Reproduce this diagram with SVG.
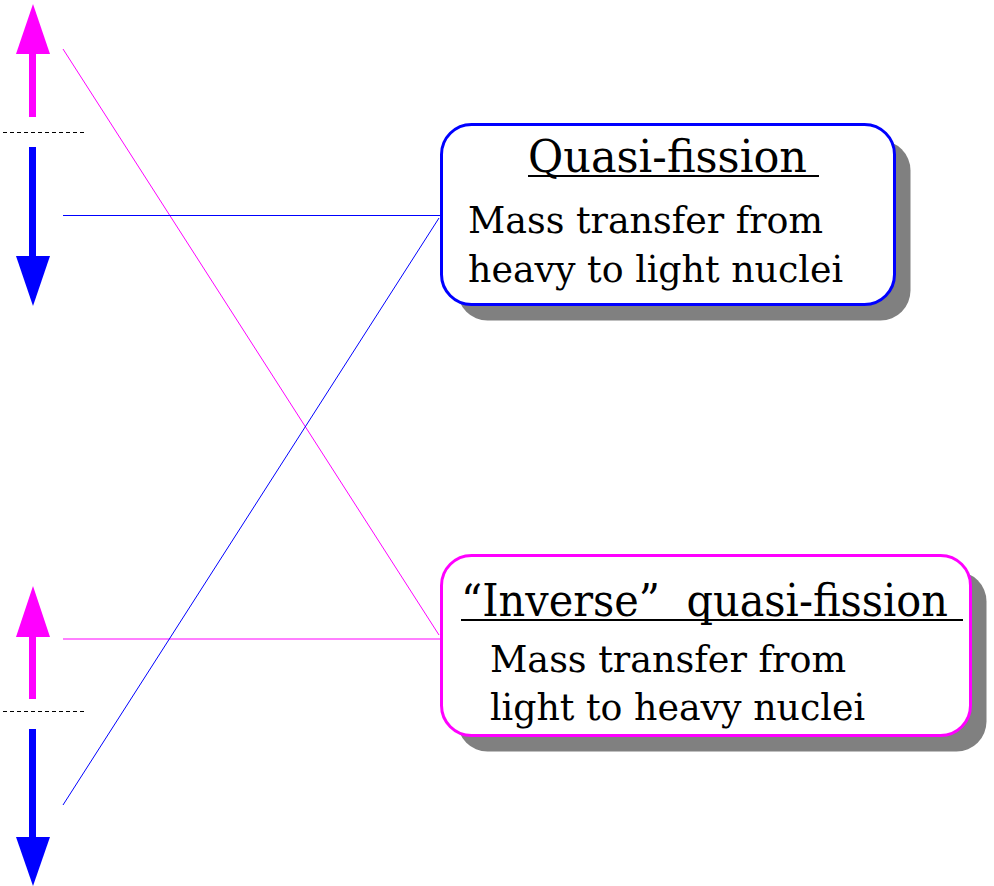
<svg xmlns="http://www.w3.org/2000/svg" width="994" height="886" viewBox="0 0 994 886">
<style>
.t{font-family:"DejaVu Serif","Liberation Serif",serif;fill:#000}
.ttl{font-size:45px}
.body{font-size:38px}
.shadow{fill:#808080}
.box{fill:#fff;stroke-width:3}
.ul{stroke:#000;stroke-width:2}
.dash{stroke:#000;stroke-width:1;stroke-dasharray:4 3}
</style>
<rect width="994" height="886" fill="#fff"/>
<g id="connectors" fill="none" stroke-width="1">
<line x1="63" y1="49" x2="439" y2="635" stroke="#ff00ff"/>
<line x1="63" y1="215.5" x2="440" y2="215.5" stroke="#0000ff"/>
<line x1="63" y1="639" x2="440" y2="639" stroke="#ff00ff"/>
<line x1="63" y1="805" x2="439" y2="218" stroke="#0000ff"/>
</g>
<g id="arrows-top">
<polygon points="33,4 50,54 16,54" fill="#ff00ff"/>
<rect x="29" y="53" width="7" height="64" fill="#ff00ff"/>
<line class="dash" x1="3" y1="132.5" x2="85" y2="132.5"/>
<rect x="29" y="147" width="7" height="110" fill="#0000ff"/>
<polygon points="16,256 50,256 33,306" fill="#0000ff"/>
</g>
<g id="arrows-bottom">
<polygon points="33,586 50,637 16,637" fill="#ff00ff"/>
<rect x="29" y="636" width="7" height="63" fill="#ff00ff"/>
<line class="dash" x1="3" y1="711.5" x2="85" y2="711.5" stroke="#555"/>
<rect x="29" y="729" width="7" height="109" fill="#0000ff"/>
<polygon points="16,837 50,837 33,886" fill="#0000ff"/>
</g>
<g id="quasi-fission">
<rect class="shadow" x="457.5" y="140.5" width="453" height="180" rx="30"/>
<rect class="box" x="441.5" y="124.5" width="453" height="180" rx="30" stroke="#0000ff"/>
<text class="t ttl" x="528" y="172" textLength="279" lengthAdjust="spacingAndGlyphs">Quasi-fission</text>
<line class="ul" x1="528" y1="176" x2="819" y2="176"/>
<text class="t body" x="468" y="233" textLength="355" lengthAdjust="spacingAndGlyphs">Mass transfer from</text>
<text class="t body" x="468" y="282" textLength="375" lengthAdjust="spacingAndGlyphs">heavy to light nuclei</text>
</g>
<g id="inverse-quasi-fission">
<rect class="shadow" x="457.5" y="571.5" width="529" height="180" rx="30"/>
<rect class="box" x="441.5" y="555.5" width="529" height="180" rx="30" stroke="#ff00ff"/>
<text class="t ttl" x="461" y="616" textLength="487" lengthAdjust="spacingAndGlyphs" xml:space="preserve">“Inverse”  quasi-fission</text>
<line class="ul" x1="461" y1="620" x2="963" y2="620"/>
<text class="t body" x="490" y="672" textLength="356" lengthAdjust="spacingAndGlyphs">Mass transfer from</text>
<text class="t body" x="490" y="720" textLength="375" lengthAdjust="spacingAndGlyphs">light to heavy nuclei</text>
</g>
</svg>
